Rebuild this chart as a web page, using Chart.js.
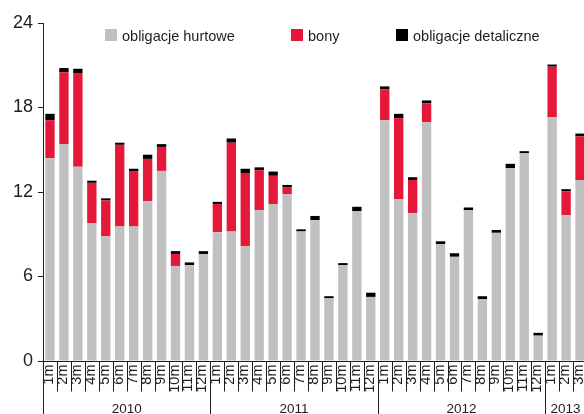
<!DOCTYPE html>
<html>
<head>
<meta charset="utf-8">
<script src="https://cdn.jsdelivr.net/npm/chart.js@4/dist/chart.umd.min.js"></script>
<style>
    html, body { margin: 0; padding: 0; background: #fff; overflow: hidden; }
    #wrap { width: 587px; height: 414px; position: relative; }
</style>
</head>
<body>
<div id="wrap"><canvas id="chart"></canvas></div>
<script>
// months, one per bar; a new year starts at every "1m"
const months = [
    "1m", "2m", "3m", "4m", "5m", "6m", "7m", "8m", "9m", "10m", "11m", "12m",
    "1m", "2m", "3m", "4m", "5m", "6m", "7m", "8m", "9m", "10m", "11m", "12m",
    "1m", "2m", "3m", "4m", "5m", "6m", "7m", "8m", "9m", "10m", "11m", "12m",
    "1m", "2m", "3m"
];
const years = ["2010", "2011", "2012", "2013"];

const hurtowe = [
    14.4, 15.4, 13.8, 9.8, 8.85, 9.55, 9.55, 11.35, 13.5, 6.75, 6.8, 7.6,
    9.15, 9.2, 8.15, 10.7, 11.15, 11.85, 9.2, 10.0, 4.45, 6.8, 10.65, 4.55,
    17.1, 11.5, 10.5, 16.95, 8.3, 7.4, 10.7, 4.4, 9.1, 13.7, 14.75, 1.8,
    17.3, 10.35, 12.85
];
const bony = [
    2.7, 5.1, 6.65, 2.85, 2.55, 5.8, 3.9, 3.0, 1.7, 0.85, 0, 0,
    2.0, 6.3, 5.2, 2.85, 2.0, 0.5, 0, 0, 0, 0, 0, 0,
    2.2, 5.75, 2.35, 1.35, 0, 0, 0, 0, 0, 0, 0, 0,
    3.6, 1.7, 3.1
];
const detaliczne = [
    0.45, 0.3, 0.3, 0.15, 0.15, 0.15, 0.2, 0.3, 0.2, 0.2, 0.2, 0.2,
    0.15, 0.3, 0.3, 0.2, 0.3, 0.15, 0.15, 0.3, 0.15, 0.15, 0.3, 0.3,
    0.2, 0.3, 0.2, 0.2, 0.2, 0.25, 0.2, 0.2, 0.2, 0.3, 0.15, 0.2,
    0.15, 0.15, 0.2
];
const yTicks = [0, 6, 12, 18, 24];

const FONT = "'Liberation Sans', Arial, sans-serif";
const INK = "#1e1e1e";

// axis lines, month separators, rotated month labels, years, legend
const axisPlugin = {
    id: "axisPlugin",
    afterDraw(chart) {
        const ctx = chart.ctx;
        const area = chart.chartArea;
        const x = chart.scales.x;
        const H = chart.height;
        const left = Math.round(area.left) + 0.5;
        const bottom = Math.round(area.bottom) + 0.5;

        ctx.save();
        ctx.strokeStyle = INK;
        ctx.lineWidth = 1;

        ctx.beginPath();
        ctx.moveTo(left, Math.round(area.top));
        ctx.lineTo(left, H);
        ctx.moveTo(left, bottom);
        ctx.lineTo(area.right, bottom);

        const step = (area.right - area.left) / months.length;
        for (let i = 1; i < months.length; i++) {
            const bx = Math.round(area.left + i * step) + 0.5;
            ctx.moveTo(bx, bottom);
            ctx.lineTo(bx, months[i] === "1m" ? H : bottom + 30);
        }
        ctx.stroke();

        // month labels, reading bottom to top
        ctx.fillStyle = INK;
        ctx.font = "14.5px " + FONT;
        months.forEach((m, i) => {
            const cx = x.getPixelForValue(i) - 1;
            ctx.save();
            ctx.translate(cx, bottom + 3);
            ctx.rotate(-Math.PI / 2);
            ctx.textAlign = "right";
            ctx.textBaseline = "middle";
            ctx.fillText(m, 0, 0);
            ctx.restore();
        });

        // year labels centred under their months
        ctx.font = "13.5px " + FONT;
        ctx.textAlign = "center";
        ctx.textBaseline = "alphabetic";
        let start = 0;
        years.forEach((yr) => {
            let end = start + 1;
            while (end < months.length && months[end] !== "1m") end++;
            const x0 = area.left + start * step;
            const x1 = area.left + end * step;
            ctx.fillText(yr, (x0 + Math.min(x1, 584)) / 2 + (end - start < 12 ? 1 : 0), H - 1.5);
            start = end;
        });

        // legend drawn inside the plot area
        const boxX = [105, 291, 396];
        ctx.font = "14.5px " + FONT;
        ctx.textAlign = "left";
        chart.data.datasets.forEach((ds, i) => {
            ctx.fillStyle = ds.backgroundColor;
            ctx.fillRect(boxX[i], 29, 12, 12);
            ctx.fillStyle = INK;
            ctx.fillText(ds.label, boxX[i] + 17, 41);
        });
        ctx.restore();
    }
};

const ctx = document.getElementById("chart").getContext("2d");
new Chart(ctx, {
    type: "bar",
    data: {
        labels: months,
        datasets: [
            { label: "obligacje hurtowe", data: hurtowe, backgroundColor: "#c0c0c0" },
            { label: "bony", data: bony, backgroundColor: "#e4193a" },
            { label: "obligacje detaliczne", data: detaliczne, backgroundColor: "#000000" }
        ]
    },
    options: {
        responsive: true,
        maintainAspectRatio: false,
        animation: false,
        layout: { padding: { top: 23, left: 0, right: 0, bottom: 0 } },
        datasets: {
            bar: { barPercentage: 0.67, categoryPercentage: 1, borderWidth: 0 }
        },
        plugins: {
            legend: { display: false },
            tooltip: { enabled: false }
        },
        scales: {
            x: {
                stacked: true,
                grid: { display: false },
                border: { display: false },
                ticks: { display: false },
                afterFit: (scale) => { scale.height = 53; }
            },
            y: {
                stacked: true,
                min: 0,
                max: 24,
                afterBuildTicks: (scale) => {
                    scale.ticks = yTicks.map(v => ({ value: v }));
                },
                afterFit: (scale) => { scale.width = 43; },
                grid: {
                    drawOnChartArea: false,
                    tickLength: 5,
                    color: INK
                },
                border: { display: false },
                ticks: {
                    padding: 5,
                    color: INK,
                    font: { family: FONT, size: 18 }
                }
            }
        }
    },
    plugins: [axisPlugin]
});
</script>
</body>
</html>
